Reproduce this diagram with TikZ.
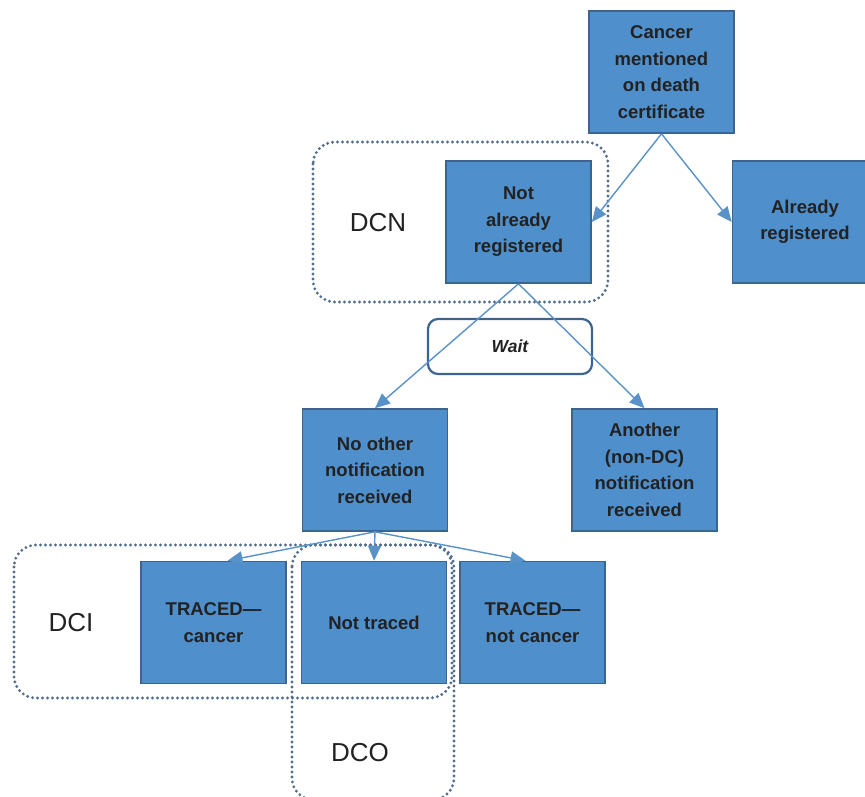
\documentclass[tikz,border=0pt]{standalone}
\usepackage{fontspec}
\setmainfont{Liberation Sans}
\usetikzlibrary{arrows.meta}
\definecolor{boxblue}{RGB}{79,143,203}
\definecolor{boxedge}{RGB}{60,100,145}
\definecolor{arrowblue}{RGB}{88,146,200}
\definecolor{dotgrey}{RGB}{82,110,140}
\definecolor{textgrey}{RGB}{34,34,34}
\begin{document}
\begin{tikzpicture}[x=1pt, y=-1pt,
        stage/.style={draw=boxedge, line width=1.6pt, fill=boxblue, minimum width=145pt, minimum height=122pt,
            inner sep=0pt, align=center, text=textgrey, font=\fontsize{18.5}{26.5}\selectfont\bfseries},
        waitbox/.style={draw=boxedge, line width=2.2pt, rounded corners=10pt, minimum width=164pt, minimum height=55pt,
            text=textgrey, font=\fontsize{17.5}{20}\selectfont\bfseries\itshape},
        flow/.style={draw=arrowblue, line width=1.4pt, -{Triangle[length=15pt, width=13pt]}},
        group/.style={draw=dotgrey, line width=3.2pt, line cap=round, dash pattern=on 0pt off 5pt, rounded corners=22pt},
        tag/.style={text=textgrey, font=\fontsize{26}{30}\selectfont}]
        \useasboundingbox (0, 0) rectangle (865, 796);
        \clip (0, 0) rectangle (865, 796);
        % boxes
        \node[stage] (cert) at (661.5, 72) {Cancer\\mentioned\\on death\\certificate};
        \node[stage] (notreg) at (518.5, 222) {Not\\already\\registered};
        \node[stage] (already) at (805, 222) {Already\\registered};
        \node[stage] (noother) at (375, 470) {No other\\notification\\received};
        \node[stage] (another) at (644.5, 470) {Another\\(non-DC)\\notification\\received};
        \node[stage] (tracedc) at (213.5, 622.5) {TRACED—\\cancer};
        \node[stage] (notraced) at (374, 622.5) {Not traced};
        \node[stage] (tracednc) at (532.5, 622.5) {TRACED—\\not cancer};
        \node[waitbox] (wait) at (510, 346.5) {Wait};
        % groups
        \draw[group] (313, 142) rectangle (608, 302);
        \draw[group] (14, 545) rectangle (452, 698);
        \draw[group] (292, 545) rectangle (454, 800);
        \node[tag] (dcn) at (378, 223) {DCN};
        \node[tag] (dci) at (71, 623) {DCI};
        \node[tag] (dco) at (360, 753) {DCO};
        % arrows
        \draw[flow] (cert.south) -- (notreg.east);
        \draw[flow] (cert.south) -- (already.west);
        \draw[flow] (notreg.south) -- (noother.north);
        \draw[flow] (notreg.south) -- (another.north);
        \draw[flow] (noother.south) -- ([xshift=14pt]tracedc.north);
        \draw[flow] (noother.south) -- (notraced.north);
        \draw[flow] (noother.south) -- ([xshift=-7pt]tracednc.north);
\end{tikzpicture}
\end{document}
